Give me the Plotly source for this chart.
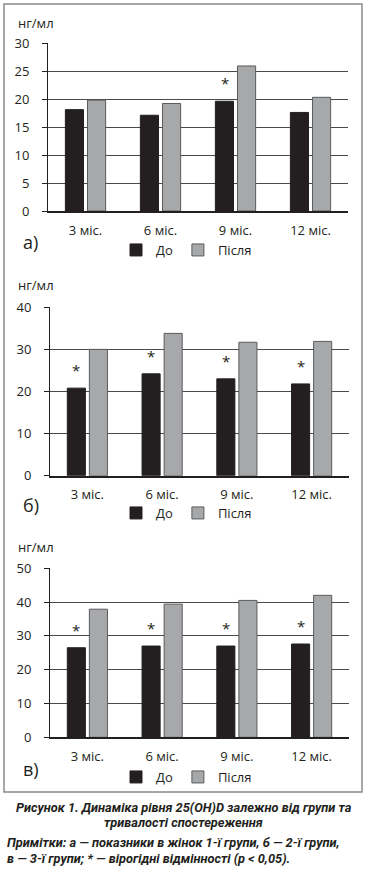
import plotly.graph_objects as go

W, H = 367, 878

months = ["3 міс.", "6 міс.", "9 міс.", "12 міс."]
series_names = ["До", "Після"]

a_before = [18.1, 17.1, 19.6, 17.6]
a_after = [19.8, 19.2, 25.9, 20.3]
a_sig = [False, False, True, False]

b_before = [20.8, 24.2, 23.0, 21.8]
b_after = [30.0, 33.8, 31.7, 31.9]
b_sig = [True, True, True, True]

c_before = [26.5, 27.0, 27.0, 27.6]
c_after = [37.9, 39.4, 40.5, 42.0]
c_sig = [True, True, True, True]

panel_labels = ["а)", "б)", "в)"]
y_ranges = [[0, 30], [0, 40], [0, 50]]
y_dticks = [5, 10, 10]
unit = "нг/мл"

caption1 = "Рисунок 1. Динаміка рівня 25(OH)D залежно від групи та"
caption2 = "тривалості спостереження"
note1 = "Примітки: а — показники в жінок 1-ї групи, б — 2-ї групи,"
note2 = "в — 3-ї групи; * — вірогідні відмінності (р < 0,05)."

INK = "#231f20"
GRAY = "#a7a8aa"
FONT = "Open Sans"


def py(px):
    return 1 - px / H


def pxx(px):
    return px / W


# pixel geometry of each panel: (left, right, top, bottom, unit_y, legend_y)
panels = [
    (48, 348, 43, 211, 23, 250),
    (50, 349, 307.3, 475.7, 285, 513),
    (50, 349, 568.3, 737.3, 547, 777),
]

data = [(a_before, a_after, a_sig), (b_before, b_after, b_sig), (c_before, c_after, c_sig)]

fig = go.Figure()
layout = dict(
    template="none",
    width=W, height=H,
    margin=dict(l=0, r=0, t=0, b=0, pad=0),
    paper_bgcolor="white", plot_bgcolor="white",
    barmode="group", bargap=0.41, bargroupgap=0.18,
    font=dict(family=FONT, color=INK, size=13),
    showlegend=True,
)
annotations = []
shapes = []

for i, ((l, r, t, b, uy, gy), (before, after, sig)) in enumerate(zip(panels, data)):
    sfx = "" if i == 0 else str(i + 1)
    xa, ya = "x" + sfx, "y" + sfx
    leg = "legend" + sfx
    fig.add_trace(go.Bar(
        x=months, y=before, name=series_names[0], xaxis=xa, yaxis=ya,
        marker=dict(color=INK, line=dict(color=INK, width=1)),
        legend=leg, offsetgroup="before",
    ))
    fig.add_trace(go.Bar(
        x=months, y=after, name=series_names[1], xaxis=xa, yaxis=ya,
        marker=dict(color=GRAY, line=dict(color="#5a5b5d", width=1)),
        legend=leg, offsetgroup="after",
    ))
    layout["xaxis" + sfx] = dict(
        domain=[pxx(l), pxx(r)], anchor=ya, type="category", automargin=False,
        showline=True, linecolor=INK, linewidth=2, ticks="",
        showgrid=False, tickfont=dict(size=13, color=INK),
        ticklabelstandoff=6, fixedrange=True,
    )
    layout["yaxis" + sfx] = dict(
        domain=[py(b), py(t)], anchor=xa, range=y_ranges[i], dtick=y_dticks[i],
        automargin=False,
        showline=True, linecolor=INK, linewidth=1,
        ticks="outside", ticklen=5, tickcolor=INK, tickwidth=1,
        showgrid=True, gridcolor="#4a4a4a", gridwidth=1, zeroline=False,
        tickfont=dict(size=13, color=INK), ticklabelstandoff=10, fixedrange=True,
    )
    layout[leg] = dict(
        orientation="h", x=pxx(116), y=py(gy), xanchor="left", yanchor="middle",
        font=dict(size=13, color=INK), bgcolor="rgba(0,0,0,0)",
        itemclick=False, itemdoubleclick=False,
    )
    annotations.append(dict(
        text=unit, x=pxx(16), y=py(uy), xref="paper", yref="paper",
        xanchor="left", yanchor="middle", showarrow=False,
        font=dict(size=13, color=INK),
    ))
    annotations.append(dict(
        text=panel_labels[i], x=pxx(21), y=py(gy - 8), xref="paper", yref="paper",
        xanchor="left", yanchor="middle", showarrow=False,
        font=dict(size=18, color=INK),
    ))
    for m, v, s in zip(months, before, sig):
        if s:
            annotations.append(dict(
                text="*", x=m, y=v, xref=xa, yref=ya, xshift=-11, yshift=6,
                xanchor="center", yanchor="bottom", showarrow=False,
                font=dict(size=15, color=INK),
            ))

shapes.append(dict(type="rect", xref="paper", yref="paper",
                   x0=pxx(4), x1=pxx(362), y0=py(792), y1=py(4),
                   line=dict(color="#8a8a8a", width=1.5)))

cap_font = dict(family="Roboto", size=12.8, color=INK)
annotations += [
    dict(text="<b><i>" + caption1 + "</i></b>", x=0.5, y=py(807), xref="paper", yref="paper",
         xanchor="center", yanchor="middle", showarrow=False, font=cap_font),
    dict(text="<b><i>" + caption2 + "</i></b>", x=0.5, y=py(822), xref="paper", yref="paper",
         xanchor="center", yanchor="middle", showarrow=False, font=cap_font),
    dict(text="<b><i>" + note1 + "</i></b>", x=pxx(5), y=py(842), xref="paper", yref="paper",
         xanchor="left", yanchor="middle", showarrow=False, font=cap_font),
    dict(text="<b><i>" + note2 + "</i></b>", x=pxx(5), y=py(858), xref="paper", yref="paper",
         xanchor="left", yanchor="middle", showarrow=False, font=cap_font),
]

layout["annotations"] = annotations
layout["shapes"] = shapes
fig.update_layout(**layout)
fig.write_html(
    "out.html",
    config={"displayModeBar": False},
    post_script="document.body.style.margin='0';document.body.style.padding='0';",
)
